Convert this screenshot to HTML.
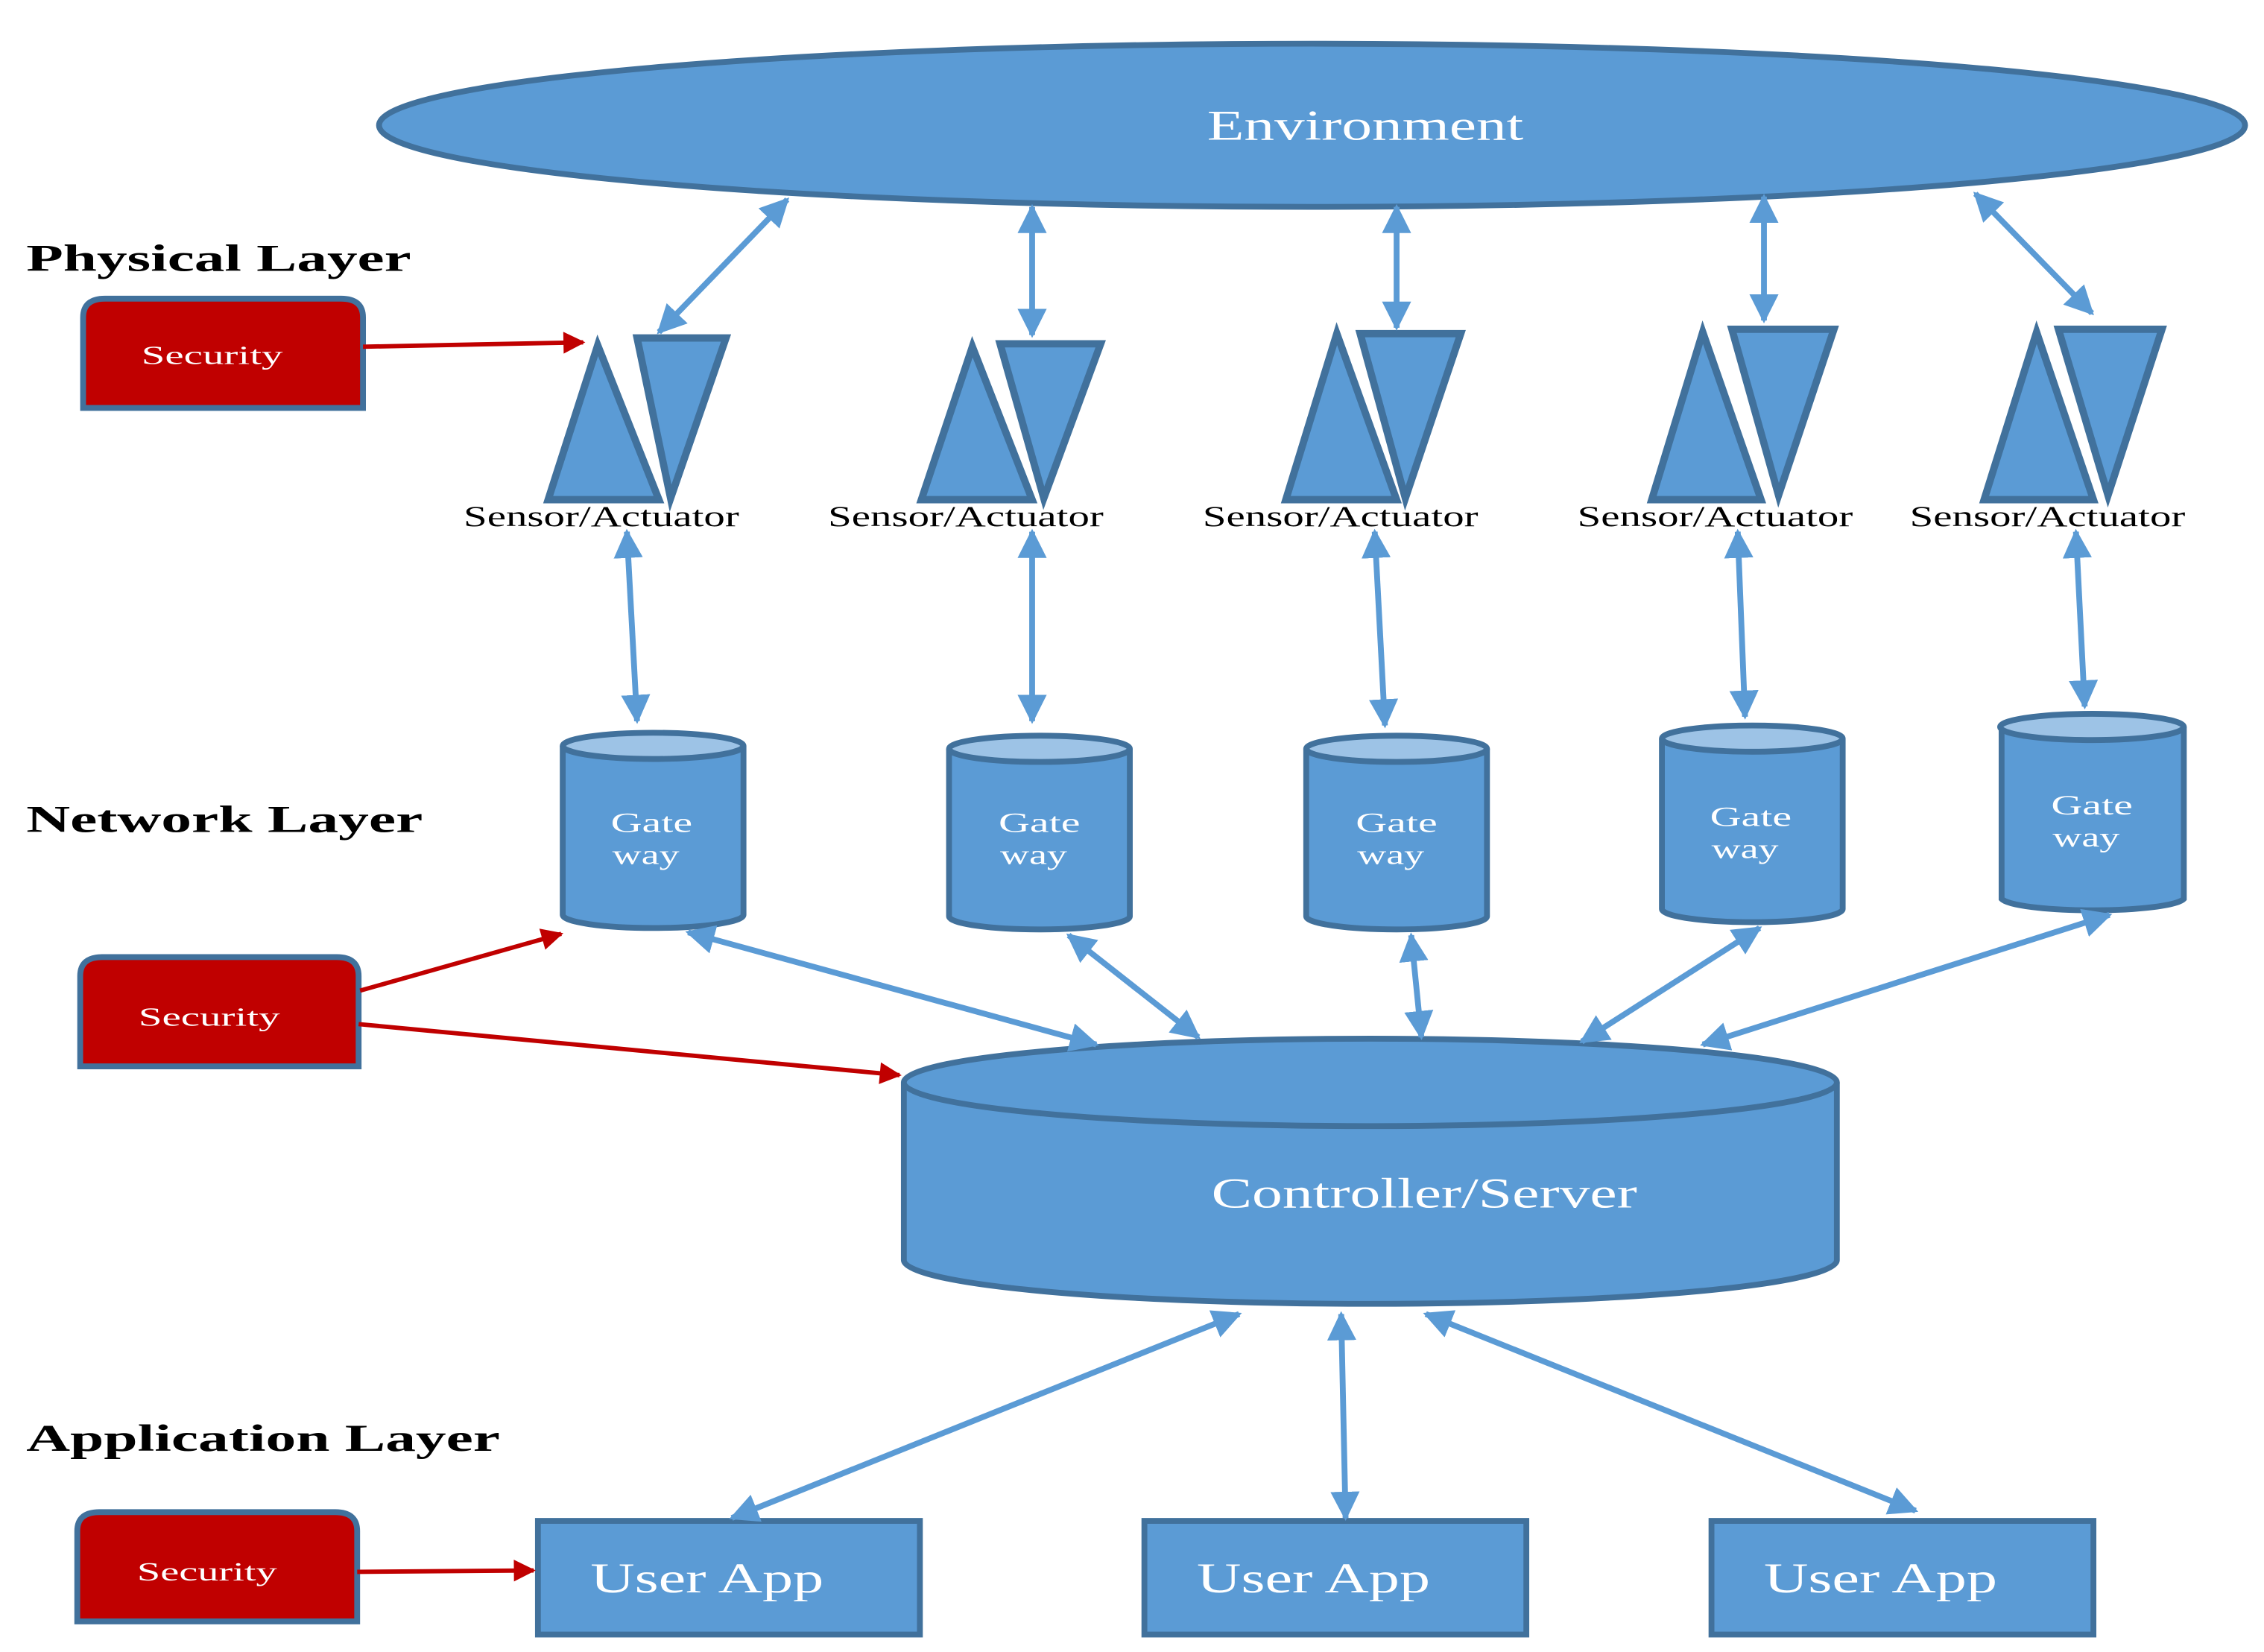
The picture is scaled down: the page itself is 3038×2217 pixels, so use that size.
<!DOCTYPE html>
<html><head><meta charset="utf-8"><style>
html,body{margin:0;padding:0;background:#fff;}
svg{display:block;}
text{font-family:"Liberation Serif",serif;}
</style></head><body>
<svg width="3038" height="2217" viewBox="0 0 1553 1134" preserveAspectRatio="none" xmlns="http://www.w3.org/2000/svg">
<defs>
<marker id="b" viewBox="0 0 10 10" refX="9" refY="5" markerWidth="5" markerHeight="5" orient="auto-start-reverse" markerUnits="strokeWidth"><path d="M0,0 L10,5 L0,10 z" fill="#5b9bd5"/></marker>
<marker id="r" viewBox="0 0 10 10" refX="9" refY="5" markerWidth="6" markerHeight="5" orient="auto" markerUnits="strokeWidth"><path d="M0,0 L10,5 L0,10 z" fill="#c00000"/></marker>
</defs>
<g fill="#5b9bd5" stroke="#41719c" stroke-width="4">
<ellipse cx="900" cy="86" rx="640" ry="56"/>
</g>
<text x="828" y="96" font-size="29" fill="#fff" textLength="217" lengthAdjust="spacingAndGlyphs">Environment</text>
<g font-weight="bold" font-size="26" fill="#000">
<text x="18" y="186" textLength="264" lengthAdjust="spacingAndGlyphs">Physical Layer</text>
<text x="18" y="571" textLength="272" lengthAdjust="spacingAndGlyphs">Network Layer</text>
<text x="18" y="996" textLength="325" lengthAdjust="spacingAndGlyphs">Application Layer</text>
</g>
<g fill="#c00000" stroke="#41719c" stroke-width="4">
<path d="M57,280 V218 Q57,205 72,205 H234 Q249,205 249,218 V280 Z"/>
<path d="M55,732 V670 Q55,657 70,657 H231 Q246,657 246,670 V732 Z"/>
<path d="M53,1113 V1051 Q53,1038 68,1038 H230 Q245,1038 245,1051 V1113 Z"/>
</g>
<g fill="#fff" font-size="18">
<text x="97" y="250" textLength="97" lengthAdjust="spacingAndGlyphs">Security</text>
<text x="95" y="704" textLength="97" lengthAdjust="spacingAndGlyphs">Security</text>
<text x="94" y="1085" textLength="96" lengthAdjust="spacingAndGlyphs">Security</text>
</g>
<g fill="#5b9bd5" stroke="#41719c" stroke-width="5" stroke-linejoin="miter">
<path d="M410,237 L452,343 L376,343 Z"/><path d="M437,232 L498,232 L460,342 Z"/>
<path d="M667,238 L708,343 L632,343 Z"/><path d="M686,236 L755,236 L716,342 Z"/>
<path d="M917,229 L958,343 L882,343 Z"/><path d="M933,229 L1002,229 L964,342 Z"/>
<path d="M1168,228 L1208,343 L1133,343 Z"/><path d="M1188,226 L1258,226 L1220,340 Z"/>
<path d="M1397,228 L1436,343 L1361,343 Z"/><path d="M1412,226 L1483,226 L1446,340 Z"/>
</g>
<g font-size="20" fill="#000">
<text x="318" y="361" textLength="189" lengthAdjust="spacingAndGlyphs">Sensor/Actuator</text>
<text x="568" y="361" textLength="189" lengthAdjust="spacingAndGlyphs">Sensor/Actuator</text>
<text x="825" y="361" textLength="189" lengthAdjust="spacingAndGlyphs">Sensor/Actuator</text>
<text x="1082" y="361" textLength="189" lengthAdjust="spacingAndGlyphs">Sensor/Actuator</text>
<text x="1310" y="361" textLength="189" lengthAdjust="spacingAndGlyphs">Sensor/Actuator</text>
</g>
<g stroke="#41719c" stroke-width="4">
<path d="M386,512 V628 A62,9 0 0 0 510,628 V512" fill="#5b9bd5"/><ellipse cx="448" cy="512" rx="62" ry="9" fill="#9dc3e6"/>
<path d="M651,514 V629 A62,9 0 0 0 775,629 V514" fill="#5b9bd5"/><ellipse cx="713" cy="514" rx="62" ry="9" fill="#9dc3e6"/>
<path d="M896,514 V629 A62,9 0 0 0 1020,629 V514" fill="#5b9bd5"/><ellipse cx="958" cy="514" rx="62" ry="9" fill="#9dc3e6"/>
<path d="M1140,507 V624 A62,9 0 0 0 1264,624 V507" fill="#5b9bd5"/><ellipse cx="1202" cy="507" rx="62" ry="9" fill="#9dc3e6"/>
<path d="M1373,499 V617 A63,9 0 0 0 1498,617 V499" fill="#5b9bd5"/><ellipse cx="1435" cy="499" rx="63" ry="9" fill="#9dc3e6"/>
</g>
<g fill="#fff" font-size="19">
<text x="419" y="571" textLength="56" lengthAdjust="spacingAndGlyphs">Gate</text><text x="420" y="593" textLength="46" lengthAdjust="spacingAndGlyphs">way</text>
<text x="685" y="571" textLength="56" lengthAdjust="spacingAndGlyphs">Gate</text><text x="686" y="593" textLength="46" lengthAdjust="spacingAndGlyphs">way</text>
<text x="930" y="571" textLength="56" lengthAdjust="spacingAndGlyphs">Gate</text><text x="931" y="593" textLength="46" lengthAdjust="spacingAndGlyphs">way</text>
<text x="1173" y="567" textLength="56" lengthAdjust="spacingAndGlyphs">Gate</text><text x="1174" y="589" textLength="46" lengthAdjust="spacingAndGlyphs">way</text>
<text x="1407" y="559" textLength="56" lengthAdjust="spacingAndGlyphs">Gate</text><text x="1408" y="581" textLength="46" lengthAdjust="spacingAndGlyphs">way</text>
</g>
<g stroke="#41719c" stroke-width="4">
<path d="M620,743 V865 A320,30 0 0 0 1260,865 V743" fill="#5b9bd5"/>
<ellipse cx="940" cy="743" rx="320" ry="30" fill="#5b9bd5"/>
</g>
<text x="831" y="829" font-size="29" fill="#fff" textLength="292" lengthAdjust="spacingAndGlyphs">Controller/Server</text>
<g fill="#5b9bd5" stroke="#41719c" stroke-width="4">
<rect x="369" y="1044" width="262" height="78"/>
<rect x="785" y="1044" width="262" height="78"/>
<rect x="1174" y="1044" width="262" height="78"/>
</g>
<g fill="#fff" font-size="29">
<text x="405" y="1093" textLength="160" lengthAdjust="spacingAndGlyphs">User App</text>
<text x="821" y="1093" textLength="160" lengthAdjust="spacingAndGlyphs">User App</text>
<text x="1210" y="1093" textLength="160" lengthAdjust="spacingAndGlyphs">User App</text>
</g>
<g stroke="#5b9bd5" stroke-width="4" marker-start="url(#b)" marker-end="url(#b)" fill="none">
<line x1="540" y1="137" x2="452" y2="228"/>
<line x1="708" y1="142" x2="708" y2="230"/>
<line x1="958" y1="142" x2="958" y2="225"/>
<line x1="1210" y1="135" x2="1210" y2="220"/>
<line x1="1355" y1="133" x2="1435" y2="215"/>
<line x1="430" y1="365" x2="437" y2="495"/>
<line x1="708" y1="365" x2="708" y2="495"/>
<line x1="943" y1="365" x2="950" y2="498"/>
<line x1="1192" y1="365" x2="1197" y2="492"/>
<line x1="1424" y1="365" x2="1430" y2="485"/>
<line x1="472" y1="640" x2="752" y2="717"/>
<line x1="733" y1="642" x2="822" y2="712"/>
<line x1="968" y1="642" x2="975" y2="712"/>
<line x1="1207" y1="637" x2="1085" y2="715"/>
<line x1="1447" y1="628" x2="1168" y2="717"/>
<line x1="850" y1="902" x2="502" y2="1042"/>
<line x1="920" y1="902" x2="923" y2="1042"/>
<line x1="978" y1="902" x2="1314" y2="1037"/>
</g>
<g stroke="#c00000" stroke-width="3" marker-end="url(#r)">
<line x1="249" y1="238" x2="400" y2="235"/>
<line x1="247" y1="680" x2="385" y2="641"/>
<line x1="246" y1="703" x2="617" y2="738"/>
<line x1="245" y1="1079" x2="366" y2="1078"/>
</g>
</svg>
</body></html>
